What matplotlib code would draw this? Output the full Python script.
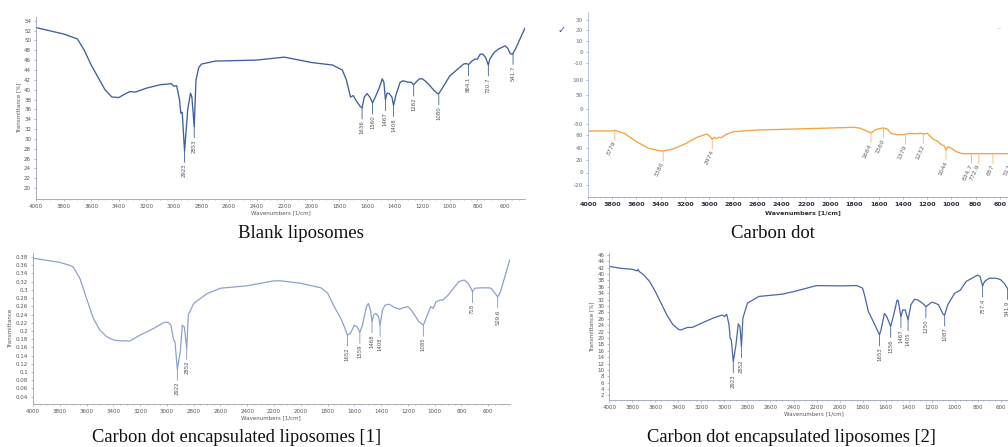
import numpy as np
import matplotlib.pyplot as plt
from matplotlib.ticker import MultipleLocator, FuncFormatter

# ---- data ----
# Blank liposomes (Transmittance %)
blank_wn = [4000, 3800, 3700, 3650, 3600, 3550, 3500, 3450, 3400, 3350, 3320, 3280, 3200, 3100,
            3020, 3000, 2980, 2960, 2950, 2940, 2923, 2900, 2880, 2870, 2853, 2840, 2820, 2800,
            2700, 2400, 2200, 2000, 1850, 1780, 1750, 1720, 1700, 1680, 1650, 1636, 1620, 1600,
            1580, 1560, 1540, 1510, 1490, 1478, 1467, 1455, 1440, 1420, 1408, 1390, 1360, 1340,
            1300, 1280, 1262, 1240, 1220, 1200, 1180, 1150, 1120, 1090, 1080, 1050, 1000, 950,
            900, 880, 864, 840, 820, 800, 780, 760, 740, 721, 710, 680, 650, 600, 580, 562, 545,
            520, 480, 455]
blank_t = [52.6, 51.3, 50.3, 48.0, 45.0, 42.5, 40.0, 38.5, 38.4, 39.2, 39.6, 39.5, 40.3, 41.0,
           41.2, 40.7, 40.8, 38.0, 35.2, 35.4, 27.5, 36.0, 39.3, 38.5, 32.5, 42.0, 44.5, 45.2,
           45.8, 46.0, 46.6, 45.5, 45.0, 44.0, 42.0, 38.5, 38.8, 37.8, 36.6, 36.3, 38.5, 39.2,
           38.5, 37.3, 38.5, 40.5, 42.2, 41.5, 38.0, 39.3, 39.2, 38.5, 36.8, 39.0, 41.5, 41.8,
           41.5, 41.5, 41.0, 41.7, 42.2, 42.2, 41.8, 41.0, 40.0, 39.2, 39.2, 40.5, 42.8, 44.0,
           45.2, 45.3, 45.1, 45.8, 46.2, 46.2, 47.2, 47.2, 46.5, 45.0, 46.2, 47.5, 48.2, 48.9,
           48.4, 47.3, 47.2, 48.5, 51.0, 52.5]
blank_peaks = [2923, 2853, 1636, 1560, 1467, 1408, 1262, 1080, 864.1, 720.7, 541.7]
blank_peak_labels = ["2923", "2853", "1636", "1560", "1467", "1408", "1262", "1080", "864.1", "720.7", "541.7"]

# Carbon dot (values on the red axis scale)
cd_wn = [4000, 3800, 3779, 3700, 3600, 3500, 3400, 3380, 3300, 3200, 3100, 3020, 2990, 2974,
         2960, 2940, 2920, 2900, 2860, 2800, 2600, 2400, 2000, 1800, 1750, 1700, 1664, 1620,
         1580, 1560, 1530, 1500, 1450, 1400, 1379, 1350, 1300, 1250, 1232, 1200, 1170, 1150,
         1120, 1080, 1060, 1044, 1030, 1000, 960, 920, 900, 600, 450]
cd_t = [66.4, 66.4, 67.5, 62.7, 49.3, 38.7, 34.4, 34.4, 37.6, 45.6, 56.3, 61.6, 57.3, 53.0,
        56.3, 54.0, 56.3, 55.7, 61.0, 65.3, 68.0, 69.0, 71.2, 72.3, 70.7, 66.4, 63.2, 69.0,
        70.7, 71.2, 69.6, 62.7, 60.5, 60.5, 61.0, 62.7, 62.0, 62.7, 61.6, 62.7, 57.3, 53.0,
        51.0, 44.0, 43.0, 36.0, 41.3, 38.7, 33.3, 30.7, 30.1, 30.1, 30.1]
cd_peaks = [3779, 3380, 2974, 1664, 1560, 1379, 1232, 1044, 834.7, 772.9, 657, 517]
cd_peak_labels = ["3779", "3380", "2974", "1664", "1560", "1379", "1232", "1044", "834.7", "772.9", "657", "517"]
cd_ytick_labels = ["30", "20", "10", "0", "-10", "100", "50", "0", "-50", "60", "40", "20", "0", "-20"]
cd_ytick_colors = ["#34508c"] * 5 + ["#f0a23a"] * 4 + ["#e0502a"] * 5

# Carbon dot encapsulated liposomes [1] (Transmittance)
cl1_wn = [4000, 3800, 3720, 3700, 3650, 3600, 3550, 3500, 3450, 3400, 3350, 3300, 3280, 3200,
          3100, 3020, 2990, 2970, 2950, 2940, 2922, 2900, 2885, 2870, 2852, 2840, 2800, 2700,
          2600, 2400, 2200, 2150, 2000, 1850, 1800, 1750, 1700, 1670, 1652, 1630, 1600, 1580,
          1559, 1540, 1510, 1495, 1480, 1468, 1455, 1440, 1420, 1408, 1390, 1370, 1340, 1300,
          1260, 1230, 1200, 1180, 1150, 1120, 1085, 1060, 1030, 1010, 990, 960, 940, 900, 860,
          820, 780, 750, 730, 718, 700, 650, 600, 580, 560, 529.6, 510, 480, 440]
cl1_t = [0.377, 0.367, 0.359, 0.356, 0.328, 0.279, 0.231, 0.202, 0.186, 0.178, 0.176, 0.176,
         0.175, 0.190, 0.206, 0.221, 0.221, 0.214, 0.178, 0.174, 0.107, 0.150, 0.214, 0.210,
         0.158, 0.239, 0.267, 0.291, 0.304, 0.310, 0.322, 0.322, 0.316, 0.305, 0.292, 0.259,
         0.230, 0.206, 0.190, 0.194, 0.214, 0.210, 0.197, 0.214, 0.259, 0.267, 0.251, 0.223,
         0.239, 0.243, 0.235, 0.214, 0.251, 0.263, 0.265, 0.257, 0.253, 0.257, 0.259, 0.253,
         0.239, 0.223, 0.214, 0.235, 0.259, 0.255, 0.271, 0.275, 0.275, 0.287, 0.304, 0.320,
         0.324, 0.316, 0.304, 0.296, 0.304, 0.305, 0.305, 0.304, 0.296, 0.283, 0.294, 0.328,
         0.373]
cl1_peaks = [2922, 2852, 1652, 1559, 1468, 1408, 1085, 718, 529.6]
cl1_peak_labels = ["2922", "2852", "1652", "1559", "1468", "1408", "1085", "718", "529.6"]

# Carbon dot encapsulated liposomes [2] (Transmittance %)
cl2_wn = [4000, 3900, 3800, 3760, 3750, 3740, 3700, 3650, 3600, 3550, 3500, 3450, 3400, 3380,
          3320, 3280, 3200, 3100, 3020, 3000, 2980, 2960, 2950, 2940, 2923, 2900, 2880, 2865,
          2852, 2840, 2800, 2700, 2500, 2400, 2200, 2000, 1850, 1800, 1780, 1750, 1700, 1653,
          1640, 1610, 1590, 1556, 1530, 1500, 1490, 1467, 1450, 1430, 1405, 1380, 1350, 1320,
          1280, 1250, 1200, 1170, 1140, 1100, 1087, 1060, 1000, 950, 900, 800, 780, 757.4, 740,
          700, 640, 600, 570, 541, 500, 450]
cl2_t = [42.4, 41.8, 41.5, 41.0, 41.5, 40.8, 39.7, 37.7, 34.5, 30.9, 27.2, 24.3, 22.7, 22.5,
         23.3, 23.3, 24.6, 26.2, 27.2, 26.7, 27.4, 24.1, 19.9, 19.4, 12.6, 17.8, 24.4, 23.6,
         17.3, 26.2, 30.9, 33.0, 33.7, 34.5, 36.4, 36.3, 36.4, 35.6, 33.0, 28.3, 24.6, 21.0,
         22.5, 27.7, 26.7, 23.6, 27.2, 31.9, 31.6, 26.7, 28.8, 28.8, 25.7, 30.4, 32.1, 31.9,
         30.9, 29.8, 31.2, 30.9, 30.4, 27.4, 27.2, 30.4, 34.0, 35.0, 37.7, 39.7, 39.2, 36.3,
         37.7, 38.7, 38.7, 38.2, 37.1, 35.5, 33.0, 30.0]
cl2_peaks = [2923, 2852, 1653, 1556, 1467, 1405, 1250, 1087, 757.4, 541]
cl2_peak_labels = ["2923", "2852", "1653", "1556", "1467", "1405", "1250", "1087", "757.4", "541.9"]

W, H = 1008, 447


def box(left, top, right, bottom):
    return [left / W, 1 - bottom / H, (right - left) / W, (bottom - top) / H]


def style_spectrum_axes(ax, ylabel):
    for s in ["top", "right"]:
        ax.spines[s].set_visible(False)
    for s in ["left", "bottom"]:
        ax.spines[s].set_color("#9aa3b5")
        ax.spines[s].set_linewidth(0.6)
    ax.xaxis.set_major_locator(MultipleLocator(200))
    ax.xaxis.set_minor_locator(MultipleLocator(50))
    ax.tick_params(which="both", colors="#9aa3b5", labelcolor="#555555", labelsize=4,
                   length=1.5, width=0.5, pad=2)
    ax.tick_params(which="minor", length=1)
    ax.set_xlabel("Wavenumbers [1/cm]", fontsize=4, color="#555555", labelpad=1)
    ax.set_ylabel(ylabel, fontsize=4, color="#555555", labelpad=2)


def label_peaks(ax, wn, t, peaks, labels, color, drop=8):
    for p, lab in zip(peaks, labels):
        py = np.interp(p, wn[::-1], t[::-1])
        ax.annotate("", xy=(p, py), xytext=(0, -drop), textcoords="offset points",
                    arrowprops=dict(arrowstyle="-", color=color, lw=0.6, shrinkA=0, shrinkB=0))
        ax.annotate(lab, xy=(p, py), xytext=(0, -drop - 1), textcoords="offset points",
                    rotation=90, ha="center", va="top", fontsize=3.9, color="#555555")


fig = plt.figure(figsize=(W / 100, H / 100), dpi=100)

# ---- Blank liposomes ----
ax1 = fig.add_axes(box(36, 17, 525, 199))
wn = np.array(blank_wn, float)
t = np.array(blank_t, float)
ax1.plot(wn, t, color="#3f5f9e", lw=0.95)
ax1.set_xlim(4000, 455)
ax1.set_ylim(17.8, 54.75)
ax1.set_yticks(np.arange(20, 55, 2))
style_spectrum_axes(ax1, "Transmittance [%]")
label_peaks(ax1, wn, t, blank_peaks, blank_peak_labels, "#3f5f9e")

# ---- Carbon dot ----
ax2 = fig.add_axes(box(588, 12, 1018, 197))
wn = np.array(cd_wn, float)
t = np.array(cd_t, float)
ax2.plot(wn, t, color="#f4a340", lw=0.95)
ax2.set_xlim(4000, 450)
ax2.set_ylim(-39.2, 256.8)
for s in ["top", "right"]:
    ax2.spines[s].set_visible(False)
ax2.spines["left"].set_color("#a9bde0")
ax2.spines["bottom"].set_color("#9aa3b5")
ax2.spines["left"].set_linewidth(0.6)
ax2.spines["bottom"].set_linewidth(0.6)
cd_ytick_pos = [244.5, 227.5, 209.9, 192.3, 174.7, 148.0, 124.5, 101.1, 77.6, 60, 40, 20, 0, -20]
ax2.set_yticks(cd_ytick_pos)
ax2.set_yticklabels(cd_ytick_labels, fontsize=3.8, fontweight="bold")
for lab, c in zip(ax2.get_yticklabels(), cd_ytick_colors):
    lab.set_color(c)
ax2.xaxis.set_major_locator(MultipleLocator(200))
ax2.xaxis.set_minor_locator(MultipleLocator(50))
ax2.tick_params(which="both", colors="#9aa3b5", length=1.5, width=0.5, pad=2)
ax2.tick_params(axis="x", labelsize=4.6, labelcolor="#2b2b3a")
ax2.tick_params(which="minor", length=1)
for lab in ax2.get_xticklabels():
    lab.set_fontweight("bold")
ax2.set_xlabel("Wavenumbers [1/cm]", fontsize=4.6, fontweight="bold", color="#2b2b3a", labelpad=2)
for p, lab in zip(cd_peaks, cd_peak_labels):
    py = np.interp(p, wn[::-1], t[::-1])
    ax2.annotate("", xy=(p, py), xytext=(0, -7), textcoords="offset points",
                 arrowprops=dict(arrowstyle="-", color="#f4b870", lw=0.6, shrinkA=0, shrinkB=0))
    ax2.annotate(lab, xy=(p, py), xytext=(0, -8), textcoords="offset points",
                 rotation=65, rotation_mode="anchor", ha="right", va="center",
                 fontsize=4.4, color="#666666")
fig.text(562 / W, 1 - 30 / H, "\u2713", fontsize=7, color="#34508c", ha="center", va="center")
fig.text(1000 / W, 1 - 29 / H, "--", fontsize=4, color="#999999", ha="center", va="center")

# ---- Carbon dot encapsulated liposomes [1] ----
ax3 = fig.add_axes(box(33, 253.3, 509.7, 404.3))
wn = np.array(cl1_wn, float)
t = np.array(cl1_t, float)
ax3.plot(wn, t, color="#8ea2c9", lw=0.9)
ax3.set_xlim(4000, 440)
ax3.set_ylim(0.0215, 0.389)
ax3.set_yticks(np.arange(0.04, 0.381, 0.02))
ax3.yaxis.set_major_formatter(FuncFormatter(lambda v, pos: "%g" % round(v, 2)))
style_spectrum_axes(ax3, "Transmittance")
label_peaks(ax3, wn, t, cl1_peaks, cl1_peak_labels, "#7f93bb")

# ---- Carbon dot encapsulated liposomes [2] ----
ax4 = fig.add_axes(box(609.3, 253.3, 1018, 400))
wn = np.array(cl2_wn, float)
t = np.array(cl2_t, float)
ax4.plot(wn, t, color="#4a66a3", lw=0.9)
ax4.set_xlim(4000, 450)
ax4.set_ylim(0.59, 46.5)
ax4.set_yticks(np.arange(2, 47, 2))
style_spectrum_axes(ax4, "Transmittance [%]")
label_peaks(ax4, wn, t, cl2_peaks, cl2_peak_labels, "#4a66a3")

# ---- captions ----
cap = dict(family="Liberation Serif", color="#111111", ha="center", va="center")
fig.text(301 / W, 1 - 234 / H, "Blank liposomes", fontsize=13.5, **cap)
fig.text(773 / W, 1 - 234 / H, "Carbon dot", fontsize=13.5, **cap)
fig.text(237 / W, 1 - 437 / H, "Carbon dot encapsulated liposomes [1]", fontsize=13.3, **cap)
fig.text(791 / W, 1 - 437 / H, "Carbon dot encapsulated liposomes [2]", fontsize=13.3, **cap)

fig.savefig("out.png", dpi=100)
